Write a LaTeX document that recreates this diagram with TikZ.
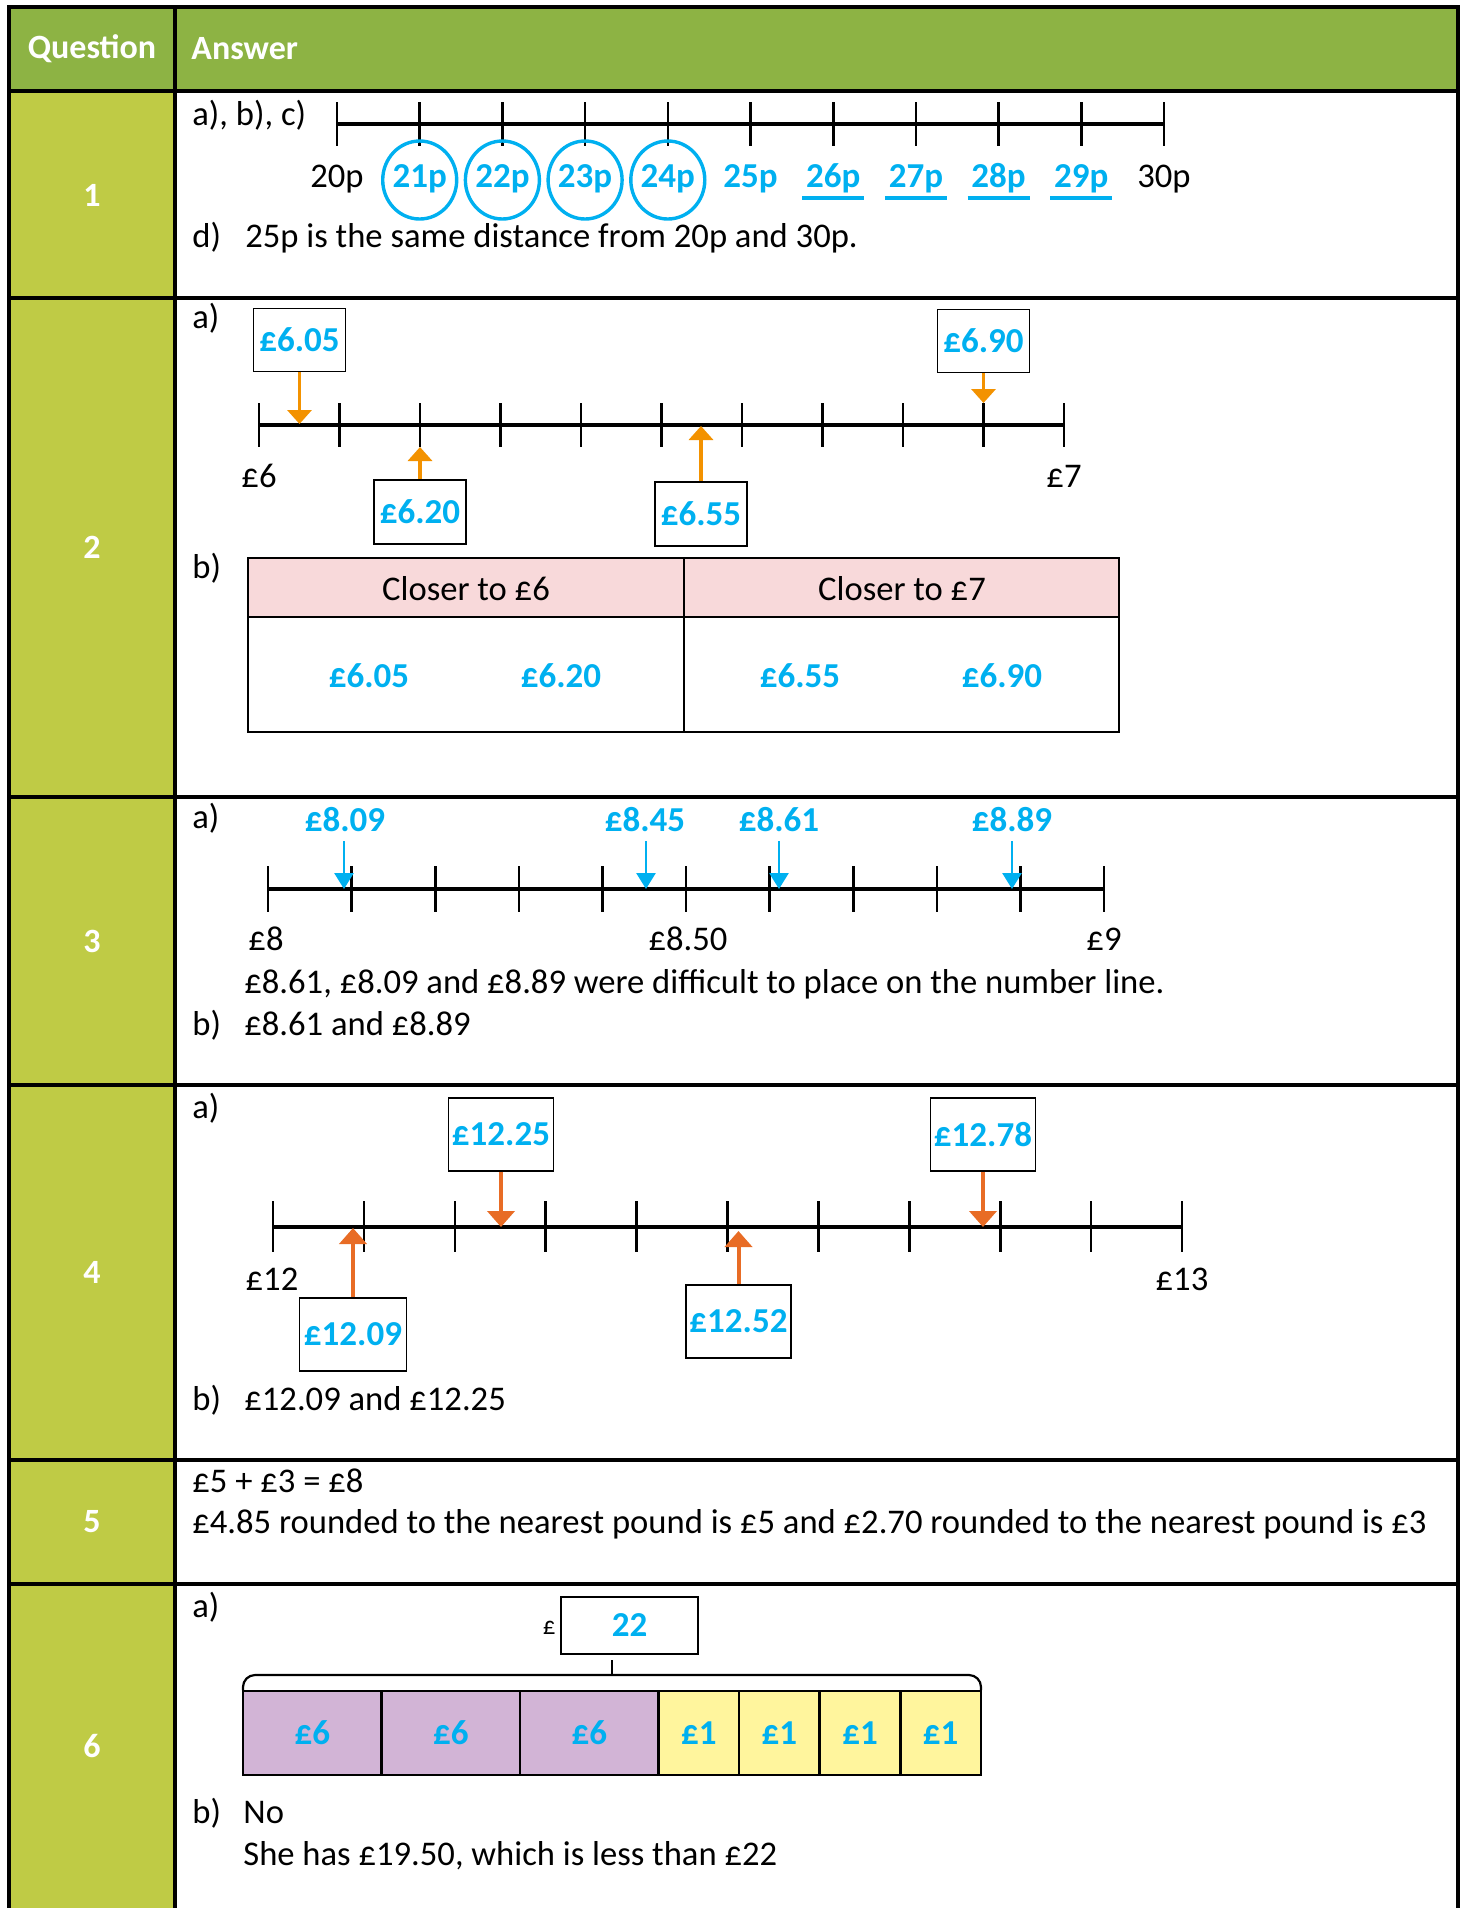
\documentclass[tikz,border=0pt]{standalone}
\usepackage{fontspec}
\setmainfont{Carlito}
\usetikzlibrary{arrows.meta}
\definecolor{hdr}{RGB}{141,179,68}
\definecolor{qcol}{RGB}{191,203,69}
\definecolor{ans}{RGB}{0,176,240}
\definecolor{org}{RGB}{243,146,0}
\definecolor{orgtwo}{RGB}{232,108,37}
\definecolor{pinkc}{RGB}{248,217,218}
\definecolor{purp}{RGB}{210,180,214}
\definecolor{yell}{RGB}{255,245,157}
\begin{document}
\begin{tikzpicture}[x=0.5pt,y=-0.5pt,
  txt/.style={anchor=base west,inner sep=0pt,font=\fontsize{17.3}{20}\selectfont},
  lab/.style={anchor=base,inner sep=0pt,font=\fontsize{17.3}{20}\selectfont},
  val/.style={inner sep=0pt,text=ans,font=\bfseries\fontsize{17.5}{20}\selectfont},
  qnum/.style={inner sep=0pt,text=white,font=\bfseries\fontsize{17}{20}\selectfont},
  hd/.style={inner sep=0pt,text=white,font=\bfseries\fontsize{17}{20}\selectfont},
  border/.style={line width=2pt},
  nline/.style={line width=1.9pt},
  ntick/.style={line width=1.3pt},
  vbox/.style={draw,line width=0.9pt,inner sep=0pt,text=ans,font=\bfseries\fontsize{17.5}{20}\selectfont},
  oarr/.style={org,line width=1.8pt,-{Triangle[length=7pt,width=12pt]}},
  rarr/.style={orgtwo,line width=2pt,-{Triangle[length=8pt,width=13.5pt]}},
  barr/.style={ans,line width=1.4pt,-{Triangle[length=8pt,width=9.5pt]}},
  cell/.style={draw,line width=1.3pt,inner sep=0pt,minimum height=42pt,text=ans,font=\bfseries\fontsize{17.5}{20}\selectfont}
]
\useasboundingbox (0,0) rectangle (1466,1908);
% backgrounds
\fill[hdr] (9,7) rectangle (1458,91);
\fill[qcol] (9,91) rectangle (175,1908);
% borders
\draw[border] (9,1908) -- (9,7) -- (1458,7) -- (1458,1908);
\draw[border] (175,7) -- (175,1908);
\foreach \yy in {91,298,797,1085,1460,1584} \draw[border] (9,\yy) -- (1458,\yy);
% header
\node[hd] (hq) at (92,49) {Question};
\node[hd,anchor=west] (ha) at (191,49) {Answer};
% question numbers
\node[qnum] (q1) at (92,195) {1};
\node[qnum] (q2) at (92,547) {2};
\node[qnum] (q3) at (92,941) {3};
\node[qnum] (q4) at (92,1272) {4};
\node[qnum] (q5) at (92,1522) {5};
\node[qnum] (q6) at (92,1746) {6};

% ---------- Row 1 ----------
\node[txt] (r1a) at (192,125) {a), b), c)};
\draw[nline] (337,124) -- (1164,124);
\foreach \i in {0,...,10} \draw[ntick] ({337+82.7*\i},102) -- ({337+82.7*\i},146);
\node[lab] (p20) at (337,187) {20p};
\node[lab] (p30) at (1164,187) {30p};
\foreach \i in {1,...,9} \node[val,anchor=base] (p2\i) at ({337+82.7*\i},187) {2\i p};
\foreach \i in {1,...,4} \draw[ans,line width=1.7pt] ({337+82.7*\i},180) ellipse [x radius=18.5pt,y radius=19.5pt];
\foreach \i in {6,...,9} \draw[ans,line width=1.6pt] ({337+82.7*\i-31},198) -- ({337+82.7*\i+31},198);
\node[txt] (r1d) at (192,247) {d)};
\node[txt] (r1dt) at (245,247) {25p is the same distance from 20p and 30p.};

% ---------- Row 2 ----------
\node[txt] (r2a) at (192,328) {a)};
\draw[nline] (259,425) -- (1064,425);
\foreach \i in {0,...,10} \draw[ntick] ({259+80.5*\i},403) -- ({259+80.5*\i},447);
\node[lab] (l6) at (259,487) {£6};
\node[lab] (l7) at (1064,487) {£7};
\node[vbox,minimum width=46pt,minimum height=31.5pt] (b605) at (299.5,340) {£6.05};
\node[vbox,minimum width=46pt,minimum height=31.5pt] (b690) at (983.5,341) {£6.90};
\node[vbox,minimum width=46pt,minimum height=32pt] (b620) at (420,512) {£6.20};
\node[vbox,minimum width=46pt,minimum height=32pt] (b655) at (701,514) {£6.55};
\coordinate (t605) at (299.5,424);
\coordinate (t690) at (983.5,403);
\coordinate (t620) at (420,447);
\coordinate (t655) at (701,426);
\draw[oarr] (b605.south) -- (t605);
\draw[oarr] (b690.south) -- (t690);
\draw[oarr] (b620.north) -- (t620);
\draw[oarr] (b655.north) -- (t655);
\node[txt] (r2b) at (192,578) {b)};
\fill[pinkc] (248,558) rectangle (1119,617);
\draw[line width=1.2pt] (248,558) rectangle (1119,732);
\draw[line width=1.2pt] (248,617) -- (1119,617);
\draw[line width=1.2pt] (684,558) -- (684,732);
\node[lab] (c6) at (466,600) {Closer to £6};
\node[lab] (c7) at (902,600) {Closer to £7};
\node[val,anchor=base] (v1) at (369,687) {£6.05};
\node[val,anchor=base] (v2) at (561,687) {£6.20};
\node[val,anchor=base] (v3) at (800,687) {£6.55};
\node[val,anchor=base] (v4) at (1002,687) {£6.90};

% ---------- Row 3 ----------
\node[txt] (r3a) at (192,828) {a)};
\draw[nline] (268,889) -- (1104,889);
\foreach \i in {0,...,10} \draw[ntick] ({268+83.6*\i},866) -- ({268+83.6*\i},912);
\node[lab] (l8) at (266,950) {£8};
\node[lab] (l850) at (688,950) {£8.50};
\node[lab] (l9) at (1104,950) {£9};
\node[val,anchor=base] (v809) at (345,831) {£8.09};
\node[val,anchor=base] (v845) at (645,831) {£8.45};
\node[val,anchor=base] (v861) at (779,831) {£8.61};
\node[val,anchor=base] (v889) at (1012,831) {£8.89};
\coordinate (s809) at (344,841); \coordinate (e809) at (344,889);
\coordinate (s845) at (646,841); \coordinate (e845) at (646,889);
\coordinate (s861) at (779,841); \coordinate (e861) at (779,889);
\coordinate (s889) at (1012,841); \coordinate (e889) at (1012,889);
\draw[barr] (s809) -- (e809);
\draw[barr] (s845) -- (e845);
\draw[barr] (s861) -- (e861);
\draw[barr] (s889) -- (e889);
\node[txt] (r3t) at (244,993) {£8.61, £8.09 and £8.89 were difficult to place on the number line.};
\node[txt] (r3b) at (192,1035) {b)};
\node[txt] (r3bt) at (244,1035) {£8.61 and £8.89};

% ---------- Row 4 ----------
\node[txt] (r4a) at (192,1118) {a)};
\draw[nline] (273,1227) -- (1182,1227);
\foreach \i in {0,...,10} \draw[ntick] ({273+90.9*\i},1201) -- ({273+90.9*\i},1252);
\node[lab] (l12) at (272,1290) {£12};
\node[lab] (l13) at (1182,1290) {£13};
\node[vbox,minimum width=52.5pt,minimum height=36.5pt] (b1225) at (501,1134.5) {£12.25};
\node[vbox,minimum width=52.5pt,minimum height=36.5pt] (b1278) at (983,1134.5) {£12.78};
\node[vbox,minimum width=53.5pt,minimum height=36.5pt] (b1209) at (353,1334.5) {£12.09};
\node[vbox,minimum width=52.5pt,minimum height=36.5pt] (b1252) at (738.5,1321.5) {£12.52};
\coordinate (t1225) at (501,1227);
\coordinate (t1278) at (983,1227);
\coordinate (t1209) at (353,1228);
\coordinate (t1252) at (738.5,1231);
\draw[rarr] (b1225.south) -- (t1225);
\draw[rarr] (b1278.south) -- (t1278);
\draw[rarr] (b1209.north) -- (t1209);
\draw[rarr] (b1252.north) -- (t1252);
\node[txt] (r4b) at (192,1410) {b)};
\node[txt] (r4bt) at (244,1410) {£12.09 and £12.25};

% ---------- Row 5 ----------
\node[txt] (r5a) at (192,1492) {£5 + £3 = £8};
\node[txt] (r5b) at (192,1533) {£4.85 rounded to the nearest pound is £5 and £2.70 rounded to the nearest pound is £3};

% ---------- Row 6 ----------
\node[txt] (r6a) at (192,1617) {a)};
\node[vbox,minimum width=68.5pt,minimum height=28.5pt] (tot) at (629.5,1625.5) {22};
\node[inner sep=0pt,font=\fontsize{12.5}{14}\selectfont,anchor=east] (pound) at (556,1628) {£};
\coordinate (bmid) at (612,1675);
\draw[line width=1pt] (612,1660) -- (bmid);
\draw[line width=1.1pt,rounded corners=6pt] (243,1690) -- (243,1675) -- (bmid) -- (981,1675) -- (981,1690);
\node[cell,fill=purp,minimum width=69.25pt] (c61) at (312.25,1733) {£6};
\node[cell,fill=purp,minimum width=69.25pt] (c62) at (450.75,1733) {£6};
\node[cell,fill=purp,minimum width=69.25pt] (c63) at (589.25,1733) {£6};
\node[cell,fill=yell,minimum width=40.3pt] (c11) at (698.8,1733) {£1};
\node[cell,fill=yell,minimum width=40.3pt] (c12) at (779.4,1733) {£1};
\node[cell,fill=yell,minimum width=40.3pt] (c13) at (860.1,1733) {£1};
\node[cell,fill=yell,minimum width=40.3pt] (c14) at (940.7,1733) {£1};
\node[txt] (r6b) at (192,1823) {b)};
\node[txt] (r6bt) at (243,1823) {No};
\node[txt] (r6c) at (243,1865) {She has £19.50, which is less than £22};
\end{tikzpicture}
\end{document}
